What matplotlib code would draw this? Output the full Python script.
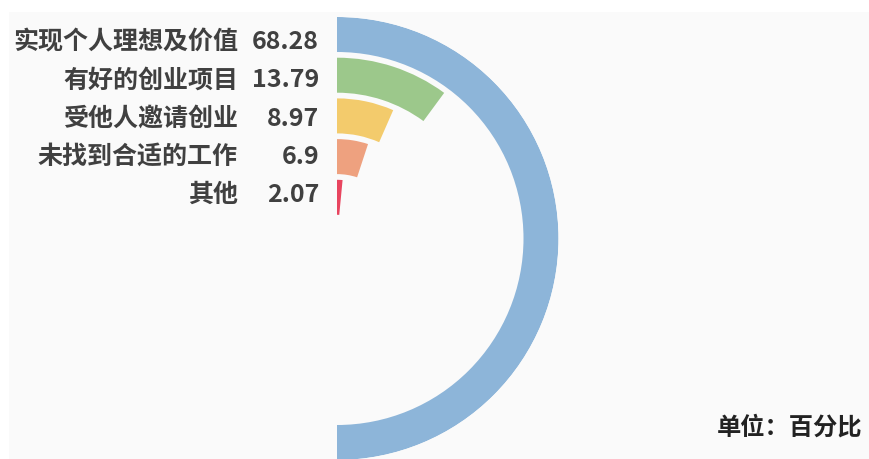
import numpy as np
import matplotlib.pyplot as plt
from matplotlib.patches import Rectangle

plt.rcParams['font.family'] = ['Noto Sans CJK SC', 'DejaVu Sans']

categories = ['实现个人理想及价值', '有好的创业项目', '受他人邀请创业', '未找到合适的工作', '其他']
values = [68.28, 13.79, 8.97, 6.9, 2.07]
value_labels = ['68.28', '13.79', '8.97', '6.9', '2.07']
colors = ['#8db5d9', '#9cc88b', '#f3cb6c', '#eea17f', '#e8455f']

W, H = 869, 459
fig = plt.figure(figsize=(W / 100, H / 100), dpi=100, facecolor='white')

# light panel behind the chart
fig.patches.append(Rectangle((9 / W, 0), 1, 1 - 12 / H, transform=fig.transFigure,
                             facecolor='#fafafa', edgecolor='none', zorder=-5))

# polar axes, centre and radius in pixels
cx, cy, R = 337, 238.5, 221.5
ax = fig.add_axes([(cx - R) / W, (H - cy - R) / H, 2 * R / W, 2 * R / H], projection='polar')
ax.set_zorder(2)
ax.set_theta_zero_location('N')
ax.set_theta_direction(-1)
ax.set_ylim(0, R)
ax.set_facecolor('none')
ax.patch.set_alpha(0)
ax.grid(False)
ax.set_xticks([])
ax.set_yticks([])
ax.spines['polar'].set_visible(False)

# largest value spans half a turn
theta = np.array(values) / max(values) * np.pi
pitch, thick = 40.7, 35
radii = R - thick / 2 - pitch * np.arange(len(values))
ax.barh(radii, theta, height=thick, left=0, color=colors, align='center')

# labels left of the rings
for i, (cat, lab) in enumerate(zip(categories, value_labels)):
    y = 1 - (42 + 38.3 * i) / H
    fig.text(238 / W, y, cat, ha='right', va='center', fontsize=18,
             color='#404040', fontweight='bold')
    fig.text(319 / W, y, lab, ha='right', va='center', fontsize=18,
             color='#404040', fontweight='bold')

fig.text(862 / W, 1 - 428 / H, '单位：百分比', ha='right', va='center',
         fontsize=17.5, color='#222222', fontweight='bold')

fig.savefig('out.png', dpi=100, facecolor='white')
